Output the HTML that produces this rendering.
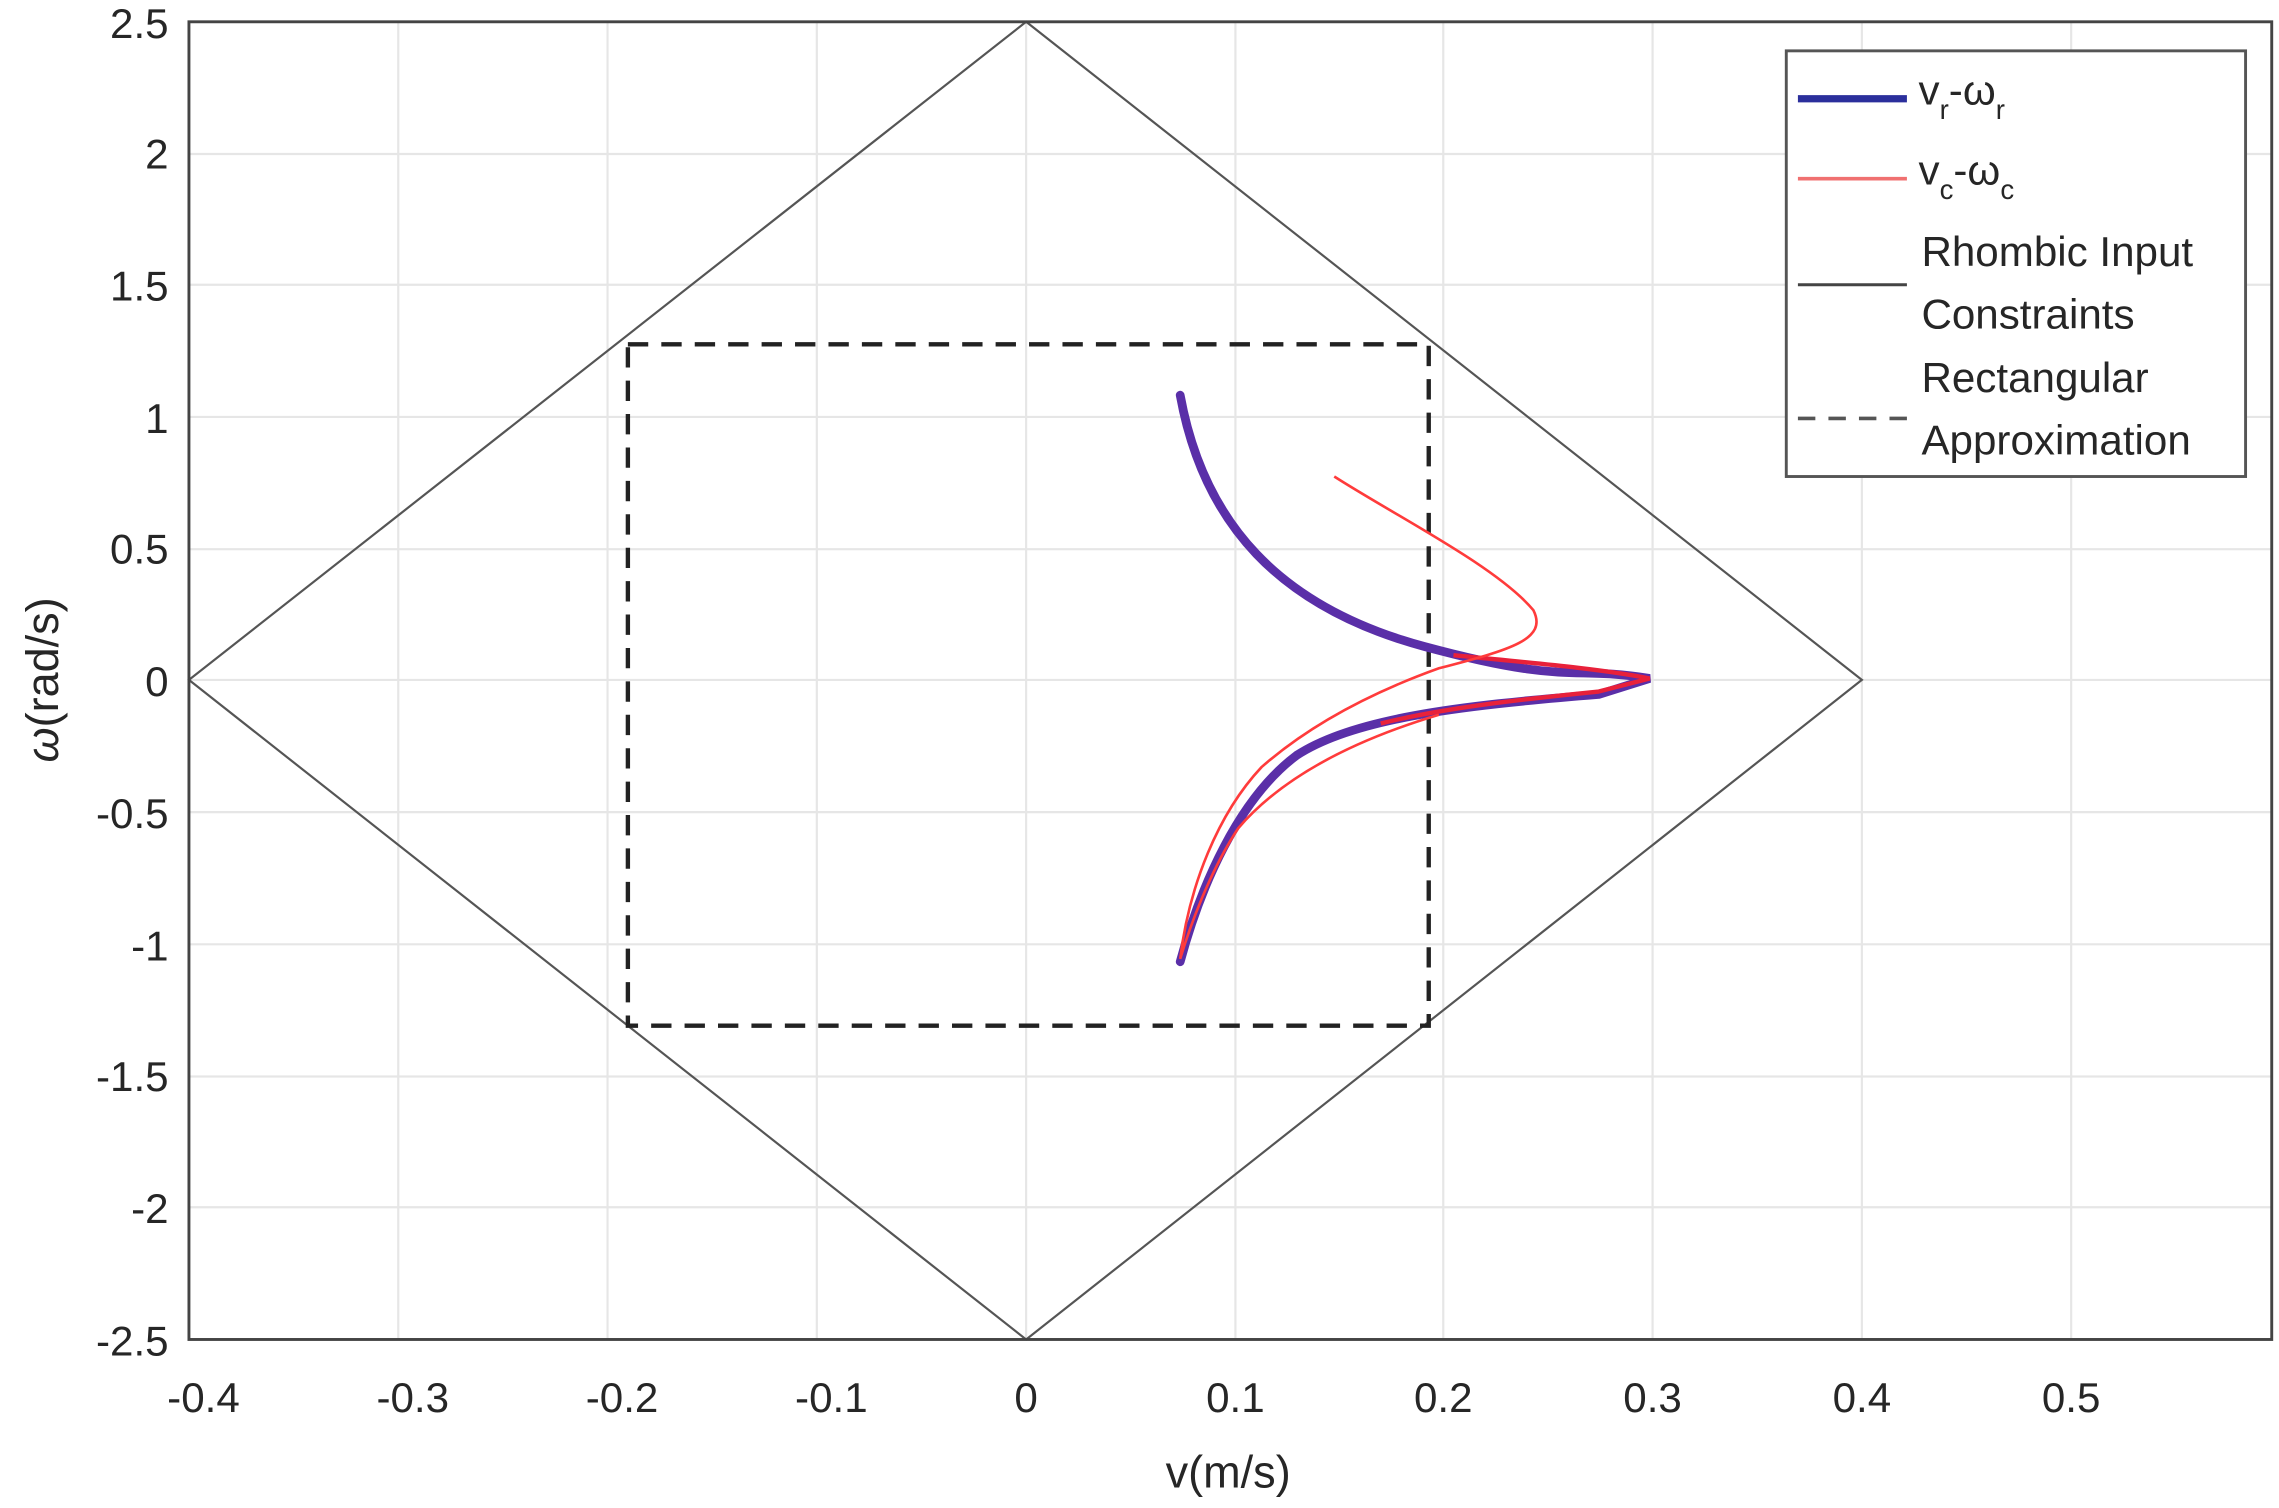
<!DOCTYPE html>
<html><head><meta charset="utf-8"><style>html,body{margin:0;padding:0;background:#fff}svg{display:block}</style></head>
<body>
<svg width="2279" height="1508" viewBox="0 0 1568 1038" preserveAspectRatio="none" xmlns="http://www.w3.org/2000/svg" font-family="Liberation Sans, Arial, sans-serif">
<rect width="1568" height="1038" fill="#fff"/>
<g stroke="#e6e6e6" stroke-width="1.5">
<line x1="274" y1="15" x2="274" y2="922"/><line x1="418" y1="15" x2="418" y2="922"/><line x1="562" y1="15" x2="562" y2="922"/><line x1="706" y1="15" x2="706" y2="922"/><line x1="850" y1="15" x2="850" y2="922"/><line x1="993" y1="15" x2="993" y2="922"/><line x1="1137" y1="15" x2="1137" y2="922"/><line x1="1281" y1="15" x2="1281" y2="922"/><line x1="1425" y1="15" x2="1425" y2="922"/>
<line x1="130" y1="106" x2="1563" y2="106"/><line x1="130" y1="196" x2="1563" y2="196"/><line x1="130" y1="287" x2="1563" y2="287"/><line x1="130" y1="378" x2="1563" y2="378"/><line x1="130" y1="468" x2="1563" y2="468"/><line x1="130" y1="559" x2="1563" y2="559"/><line x1="130" y1="650" x2="1563" y2="650"/><line x1="130" y1="741" x2="1563" y2="741"/><line x1="130" y1="831" x2="1563" y2="831"/>
</g>
<polygon points="706,15 1281,468 706,922 130,468" fill="none" stroke="#555" stroke-width="1.5"/>
<rect x="432" y="237" width="551" height="469" fill="none" stroke="#222" stroke-width="3" stroke-dasharray="14,9"/>
<path d="M812,272 C828,360 880,418 980,445 S1080,458 1135,467 L1100,478 C1000,486 930,495 892,520 C852,550 826,610 812,662" fill="none" stroke="#5a2fa8" stroke-width="6" stroke-linecap="round"/>
<path d="M1000,451 C1050,456 1100,460 1135,467 L1100,476 C1040,482 990,488 950,498" fill="none" stroke="#e8213a" stroke-width="3"/>
<path d="M918,328 C960,355 1030,390 1055,420 C1065,440 1040,447 990,460 C940,478 900,500 868,528 C838,560 818,610 812,660 C818,640 832,600 852,570 C882,535 930,510 990,492" fill="none" stroke="#ff3b3b" stroke-width="1.8"/>
<rect x="130" y="15" width="1433" height="907" fill="none" stroke="#444" stroke-width="2"/>
<g font-size="29" fill="#262626" text-anchor="end">
<text x="116" y="26">2.5</text><text x="116" y="116">2</text><text x="116" y="207">1.5</text><text x="116" y="298">1</text><text x="116" y="388">0.5</text><text x="116" y="479">0</text><text x="116" y="570">-0.5</text><text x="116" y="661">-1</text><text x="116" y="751">-1.5</text><text x="116" y="842">-2</text><text x="116" y="933">-2.5</text>
</g>
<g font-size="29" fill="#262626" text-anchor="middle">
<text x="140" y="972">-0.4</text><text x="284" y="972">-0.3</text><text x="428" y="972">-0.2</text><text x="572" y="972">-0.1</text><text x="706" y="972">0</text><text x="850" y="972">0.1</text><text x="993" y="972">0.2</text><text x="1137" y="972">0.3</text><text x="1281" y="972">0.4</text><text x="1425" y="972">0.5</text>
<text x="845" y="1024" font-size="31">v(m/s)</text>
<text transform="translate(40,468) rotate(-90)" font-size="31"><tspan font-style="italic">ω</tspan>(rad/s)</text>
</g>
<rect x="1229" y="35" width="316" height="293" fill="#fff" stroke="#555" stroke-width="2"/>
<line x1="1237" y1="68" x2="1312" y2="68" stroke="#2b2f9c" stroke-width="5"/>
<line x1="1237" y1="123" x2="1312" y2="123" stroke="#f07070" stroke-width="2.5"/>
<line x1="1237" y1="196" x2="1312" y2="196" stroke="#444" stroke-width="2"/>
<line x1="1237" y1="288" x2="1312" y2="288" stroke="#555" stroke-width="2.5" stroke-dasharray="12,9"/>
<g font-size="29" fill="#262626">
<text x="1320" y="72">v<tspan font-size="19" dy="10">r</tspan><tspan dy="-10">-ω</tspan><tspan font-size="19" dy="10">r</tspan></text>
<text x="1320" y="127">v<tspan font-size="19" dy="10">c</tspan><tspan dy="-10">-ω</tspan><tspan font-size="19" dy="10">c</tspan></text>
<text x="1322" y="183">Rhombic Input</text>
<text x="1322" y="226">Constraints</text>
<text x="1322" y="270">Rectangular</text>
<text x="1322" y="313">Approximation</text>
</g>
</svg>
</body></html>
